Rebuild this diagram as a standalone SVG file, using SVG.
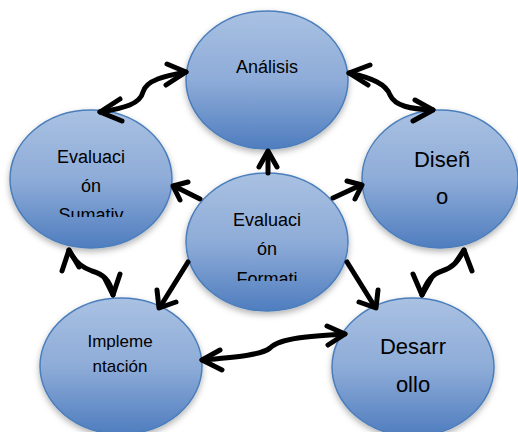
<svg xmlns="http://www.w3.org/2000/svg" width="518" height="432" viewBox="0 0 518 432">
<defs>
<linearGradient id="g" x1="0" y1="0" x2="0" y2="1">
<stop offset="0" stop-color="#a9c1e2"/>
<stop offset="0.5" stop-color="#8eacd8"/>
<stop offset="1" stop-color="#4f7dbf"/>
</linearGradient>
<filter id="sh" x="-20%" y="-20%" width="140%" height="150%">
<feGaussianBlur in="SourceAlpha" stdDeviation="3"/>
<feOffset dy="3" result="b"/>
<feFlood flood-color="#000" flood-opacity="0.3"/>
<feComposite in2="b" operator="in"/>
<feMerge><feMergeNode/><feMergeNode in="SourceGraphic"/></feMerge>
</filter>
<clipPath id="clipS"><rect x="0" y="0" width="518" height="217"/></clipPath>
<clipPath id="clipF"><rect x="0" y="0" width="518" height="281"/></clipPath>
</defs>
<style>
.node ellipse{fill:url(#g);stroke:#4a7ebb;stroke-width:1.5;filter:url(#sh)}
.t{font-family:"Liberation Sans",Arial,sans-serif;fill:#000;text-anchor:middle}
.c path,.c polyline{fill:none;stroke:#000;stroke-width:5;stroke-linecap:round;stroke-linejoin:round}
</style>
<rect width="518" height="432" fill="#fff"/>
<g id="analisis" class="node">
<ellipse cx="267" cy="80" rx="81" ry="69"/>
<text class="t" x="267" y="73" font-size="18">Análisis</text>
</g>
<g id="sumativa" class="node">
<ellipse cx="91" cy="179" rx="81" ry="69"/>
<text class="t" x="91" y="163" font-size="18">Evaluaci</text>
<text class="t" x="91" y="192" font-size="18">ón</text>
<text class="t" x="91" y="221" font-size="18" clip-path="url(#clipS)">Sumativ</text>
</g>
<g id="diseno" class="node">
<ellipse cx="440" cy="179" rx="78" ry="69"/>
<text class="t" x="442" y="167" font-size="22">Diseñ</text>
<text class="t" x="442" y="204" font-size="22">o</text>
</g>
<g id="formativa" class="node">
<ellipse cx="267" cy="242" rx="81" ry="69"/>
<text class="t" x="267" y="226" font-size="18">Evaluaci</text>
<text class="t" x="267" y="255" font-size="18">ón</text>
<text class="t" x="267" y="285" font-size="18" clip-path="url(#clipF)">Formati</text>
</g>
<g id="implementacion" class="node">
<ellipse cx="121" cy="366" rx="81" ry="68"/>
<text class="t" x="120" y="347" font-size="17">Impleme</text>
<text class="t" x="120" y="372" font-size="17">ntación</text>
</g>
<g id="desarrollo" class="node">
<ellipse cx="413" cy="367" rx="81" ry="69"/>
<text class="t" x="413" y="354" font-size="22">Desarr</text>
<text class="t" x="413" y="392" font-size="22">ollo</text>
</g>
<g id="connectors" class="c">
<path d="M100,112 C125,108 140,104 143,92 C146,80 165,76 186,72"/>
<polyline points="167,64 186,72 166,85"/>
<polyline points="120,99 100,112 122,121"/>
<path d="M349,73 C372,78 386,84 390,95 C395,106 410,109 433,110"/>
<polyline points="370,65 349,73 368,85"/>
<polyline points="415,100 433,110 413,121"/>
<path d="M268,173 L268,152"/>
<polyline points="259,167 268,151 277,167"/>
<path d="M200,199 L174,186"/>
<polyline points="188,182 173,186 180,200"/>
<path d="M333,198 L361,185"/>
<polyline points="355,199 362,185 347,181"/>
<path d="M188,262 L160,307"/>
<polyline points="157,290 159,308 176,302"/>
<path d="M347,262 L375,307"/>
<polyline points="378,290 376,308 359,302"/>
<path d="M69,250 C76,264 84,268 92,271 C102,274 110,279 113,295"/>
<polyline points="62,271 69,250 79,267"/>
<polyline points="105,279 113,295 120,274"/>
<path d="M464,250 C458,262 452,268 442,271 C432,274 426,282 422,295"/>
<polyline points="472,271 464,250 456,262"/>
<polyline points="413,274 422,295 431,279"/>
<path d="M202,360 C235,357 262,355 270,348 C280,338 310,336 345,334"/>
<polyline points="220,350 202,360 222,370"/>
<polyline points="327,326 345,334 328,345"/>
</g>
</svg>
